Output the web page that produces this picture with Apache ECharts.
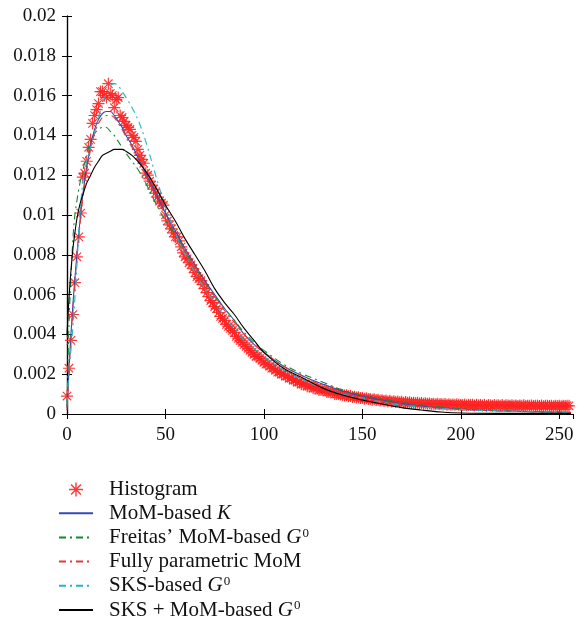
<!DOCTYPE html>
<html>
<head>
<meta charset="utf-8">
<script src="https://cdn.jsdelivr.net/npm/echarts@6/dist/echarts.min.js"></script>
<style>html,body{margin:0;padding:0;background:#fff}#c{width:587px;height:627px}</style>
</head>
<body>
<div id="c"></div>
<script>
// ---- data ----
const seriesNames = ['Histogram', 'MoM-based K', "Freitas' MoM-based G0", 'Fully parametric MoM', 'SKS-based G0', 'SKS + MoM-based G0'];
const xTicks = [0, 50, 100, 150, 200, 250];
const yTicks = [0, 0.002, 0.004, 0.006, 0.008, 0.01, 0.012, 0.014, 0.016, 0.018, 0.02];

const histValues = [
  0.0009, 0.0023, 0.0037, 0.0050, 0.0066, 0.0079, 0.0089, 0.0101, 0.0119, 0.0121,
  0.0127, 0.0134, 0.0138, 0.0146, 0.0150, 0.0153, 0.0156, 0.0162, 0.0162, 0.0160,
  0.0159, 0.0166, 0.0161, 0.0160, 0.0154, 0.0158, 0.0159, 0.0150, 0.0149, 0.0147,
  0.0145, 0.0144, 0.0143, 0.0140, 0.0139, 0.0137, 0.0133, 0.0130, 0.0128, 0.0126,
  0.0121, 0.0120, 0.0117, 0.0115, 0.0113, 0.0111, 0.0109, 0.0107, 0.0106, 0.0105,
  0.0100, 0.0097, 0.0095, 0.0093, 0.0091, 0.0089, 0.0089, 0.0087, 0.0084, 0.0081,
  0.0079, 0.0078, 0.0076, 0.0075, 0.0073, 0.0071, 0.0069, 0.0068, 0.0067, 0.0065,
  0.0063, 0.0061, 0.0059, 0.0057, 0.0056, 0.0054, 0.0053, 0.0051, 0.0049, 0.0048,
  0.0047, 0.0045, 0.0044, 0.0043, 0.0042, 0.0041, 0.0039, 0.0038, 0.0037, 0.0036,
  0.0035, 0.0034, 0.0033, 0.0032, 0.0031, 0.0030, 0.0029, 0.0029, 0.0028, 0.0027,
  0.0026, 0.0025, 0.0025, 0.0024, 0.0023, 0.0023, 0.0022, 0.0021, 0.0021, 0.0020,
  0.0020, 0.0019, 0.0019, 0.0018, 0.0018, 0.0017, 0.0017, 0.0016, 0.0016, 0.0015,
  0.0015, 0.0015, 0.0014, 0.0014, 0.0014, 0.0013, 0.0013, 0.0013, 0.0012, 0.0012,
  0.0012, 0.0012, 0.0011, 0.0011, 0.0011, 0.0011, 0.0010, 0.0010, 0.0010, 0.00098,
  0.00096, 0.00093, 0.00094, 0.00089, 0.00090, 0.00086, 0.00087, 0.00083, 0.00084, 0.00080,
  0.00081, 0.00077, 0.00079, 0.00075, 0.00076, 0.00072, 0.00074, 0.00070, 0.00071, 0.00068,
  0.00069, 0.00065, 0.00068, 0.00063, 0.00066, 0.00062, 0.00064, 0.00060, 0.00063, 0.00059,
  0.00061, 0.00057, 0.00060, 0.00056, 0.00059, 0.00055, 0.00057, 0.00054, 0.00056, 0.00053,
  0.00055, 0.00052, 0.00054, 0.00051, 0.00053, 0.00050, 0.00052, 0.00049, 0.00051, 0.00049,
  0.00050, 0.00048, 0.00050, 0.00047, 0.00049, 0.00046, 0.00048, 0.00047, 0.00049, 0.00046,
  0.00047, 0.00045, 0.00048, 0.00044, 0.00046, 0.00045, 0.00047, 0.00043, 0.00046, 0.00044,
  0.00045, 0.00043, 0.00046, 0.00042, 0.00045, 0.00044, 0.00042, 0.00045, 0.00043, 0.00044,
  0.00042, 0.00045, 0.00041, 0.00044, 0.00043, 0.00041, 0.00044, 0.00042, 0.00043, 0.00040,
  0.00043, 0.00041, 0.00044, 0.00040, 0.00042, 0.00041, 0.00043, 0.00040, 0.00042, 0.00041,
  0.00040, 0.00043, 0.00039, 0.00042, 0.00041, 0.00040, 0.00042, 0.00039, 0.00041, 0.00040,
  0.00042, 0.00039, 0.00041, 0.00040, 0.00042, 0.00041
];

const curveX = [0, 1, 2, 3, 4, 5, 6, 7, 8, 10, 12, 14, 16, 18, 20, 22, 24, 26, 28, 30, 33, 36, 40, 45, 50, 55, 60, 65, 70, 75, 80, 85, 90, 95, 100, 110, 120, 130, 140, 150, 160, 170, 180, 190, 200, 220, 240, 256];

const momK = [0.0003, 0.0022, 0.0040, 0.0055, 0.0068, 0.0080, 0.0091, 0.0101, 0.0110, 0.0124, 0.0135, 0.0143, 0.0148, 0.0151, 0.0152, 0.0152, 0.0150, 0.0147, 0.0144, 0.0140, 0.0135, 0.0129, 0.0121, 0.0111, 0.0101, 0.0092, 0.0083, 0.0075, 0.0067, 0.0060, 0.0053, 0.0047, 0.0040, 0.0035, 0.0031, 0.0024, 0.0019, 0.0015, 0.00115, 0.0009, 0.0007, 0.00052, 0.0004, 0.0003, 0.00024, 0.00016, 0.00011, 0.00008];

const freitasG0 = [0.0004, 0.0045, 0.0068, 0.0088, 0.0100, 0.0107, 0.0113, 0.0118, 0.0122, 0.0131, 0.0137, 0.0141, 0.0143, 0.0144, 0.0144, 0.0142, 0.0140, 0.0137, 0.0134, 0.0131, 0.0127, 0.0123, 0.0116, 0.0106, 0.0097, 0.0090, 0.0082, 0.0074, 0.0066, 0.0059, 0.0053, 0.0047, 0.0041, 0.0036, 0.0032, 0.0025, 0.0020, 0.0016, 0.0012, 0.00095, 0.00075, 0.00058, 0.00045, 0.00035, 0.00027, 0.00017, 0.00011, 0.00008];

const fullyMoM = [0.0002, 0.0021, 0.0038, 0.0053, 0.0066, 0.0078, 0.0089, 0.0099, 0.0108, 0.0122, 0.0133, 0.0141, 0.0146, 0.0149, 0.0150, 0.0150, 0.0149, 0.0146, 0.0143, 0.0139, 0.0134, 0.0128, 0.0120, 0.0110, 0.0100, 0.0091, 0.0082, 0.0074, 0.0066, 0.0059, 0.0052, 0.0046, 0.0040, 0.0035, 0.0031, 0.0024, 0.0019, 0.0014, 0.0011, 0.00085, 0.00065, 0.0005, 0.00038, 0.0003, 0.00023, 0.00015, 0.0001, 0.00007];

const sksG0 = [0.0005, 0.0022, 0.0032, 0.0044, 0.0058, 0.0074, 0.0092, 0.0106, 0.0116, 0.0127, 0.0134, 0.0141, 0.0149, 0.0156, 0.0161, 0.0165, 0.0166, 0.0165, 0.0162, 0.0159, 0.0154, 0.0148, 0.0137, 0.0120, 0.0104, 0.0091, 0.0080, 0.0071, 0.0063, 0.0056, 0.0049, 0.0043, 0.0037, 0.0033, 0.0029, 0.0022, 0.0017, 0.0013, 0.0010, 0.0008, 0.0006, 0.00045, 0.00035, 0.00028, 0.00022, 0.00015, 0.0001, 0.00008];

const sksMoMG0 = [0.0040, 0.0058, 0.0072, 0.0083, 0.0091, 0.0098, 0.0103, 0.0107, 0.0110, 0.0116, 0.0120, 0.0124, 0.0127, 0.0130, 0.0131, 0.0132, 0.0133, 0.0133, 0.0133, 0.0132, 0.0130, 0.0127, 0.0122, 0.0114, 0.0105, 0.0097, 0.0088, 0.0080, 0.0072, 0.0063, 0.0056, 0.0050, 0.0043, 0.0037, 0.0031, 0.0023, 0.0018, 0.0013, 0.00095, 0.0007, 0.0005, 0.00032, 0.0002, 0.0001, 0.00005, 0.00003, 0.00003, 0.00003];

// ---- chart ----
const FONT = 'Liberation Serif';
const pair = (xs, ys) => xs.map((x, i) => [x, ys[i]]);
const histData = histValues.map((v, i) => [i, v]);

const asterisk = 'path://M9 0L11 0L11 20L9 20Z M0 9L20 9L20 11L0 11Z M2.3 3.7L3.7 2.3L17.7 16.3L16.3 17.7Z M16.3 2.3L17.7 3.7L3.7 17.7L2.3 16.3Z';

const dashDot = [7, 4, 2, 4];

function lineSeries(name, ys, color, type) {
  return {
    name: name, type: 'line', data: pair(curveX, ys), smooth: 0.35,
    showSymbol: false, symbol: 'none',
    lineStyle: { color: color, width: 1.1, type: type },
    itemStyle: { color: color, opacity: 0 },
    xAxisIndex: 0, yAxisIndex: 0
  };
}

const richFmt = {
  'Histogram': '{t|Histogram}',
  'MoM-based K': '{t|MoM-based }{i|K}',
  "Freitas' MoM-based G0": "{t|Freitas\u2019 MoM-based }{i|G}{s|0}",
  'Fully parametric MoM': '{t|Fully parametric MoM}',
  'SKS-based G0': '{t|SKS-based }{i|G}{s|0}',
  'SKS + MoM-based G0': '{t|SKS + MoM-based }{i|G}{s|0}'
};

const axisCommon = {
  axisLine: { show: true, lineStyle: { color: '#000', width: 1.2 } },
  axisTick: { show: true, inside: true, length: 5, lineStyle: { color: '#000', width: 1 } },
  splitLine: { show: false }
};

const chart = echarts.init(document.getElementById('c'), null, { renderer: 'canvas' });
chart.setOption({
  animation: false,
  backgroundColor: '#fff',
  grid: { left: 67, top: 16, right: 14, bottom: 213, containLabel: false },
  xAxis: [
    Object.assign({
      type: 'value', min: 0, max: 257, interval: 50, position: 'bottom',
      axisLabel: { show: true, showMaxLabel: false, fontFamily: FONT, fontSize: 19, color: '#111', margin: 12 }
    }, axisCommon),
    Object.assign({
      type: 'value', min: 0, max: 257, interval: 50, position: 'top',
      axisLabel: { show: false }
    }, axisCommon)
  ],
  yAxis: [
    Object.assign({
      type: 'value', min: 0, max: 0.02, interval: 0.002, position: 'left',
      axisLabel: { show: true, fontFamily: FONT, fontSize: 19, color: '#111', margin: 11,
        formatter: v => String(Math.round(v * 1000) / 1000) }
    }, axisCommon),
    Object.assign({
      type: 'value', min: 0, max: 0.02, interval: 0.002, position: 'right',
      axisLabel: { show: false }
    }, axisCommon)
  ],
  legend: {
    orient: 'vertical', left: 53, top: 474, height: 150, itemWidth: 34, itemHeight: 14, itemGap: 2.8,
    data: seriesNames.map((n, i) => i === 0 ? { name: n } : { name: n, itemStyle: { opacity: 0 } }),
    formatter: n => richFmt[n],
    textStyle: {
      padding: [0, 0, 0, 11],
      rich: {
        t: { fontFamily: FONT, fontSize: 21, color: '#111', lineHeight: 22 },
        i: { fontFamily: FONT, fontSize: 21, fontStyle: 'italic', color: '#111', lineHeight: 22 },
        s: { fontFamily: FONT, fontSize: 13, color: '#111', lineHeight: 13, verticalAlign: 'top', padding: [0, 0, 0, 1] }
      }
    }
  },
  series: [
    {
      name: seriesNames[0], type: 'scatter', data: histData,
      symbol: asterisk, symbolSize: 12, symbolKeepAspect: true,
      itemStyle: { color: '#ff2222', opacity: 0.9 },
      xAxisIndex: 0, yAxisIndex: 0
    },
    lineSeries(seriesNames[1], momK, '#2f4db0', 'solid'),
    lineSeries(seriesNames[2], freitasG0, '#118833', dashDot),
    lineSeries(seriesNames[3], fullyMoM, '#e23a3a', dashDot),
    lineSeries(seriesNames[4], sksG0, '#22b5c5', dashDot),
    lineSeries(seriesNames[5], sksMoMG0, '#000000', 'solid')
  ]
});
</script>
</body>
</html>
